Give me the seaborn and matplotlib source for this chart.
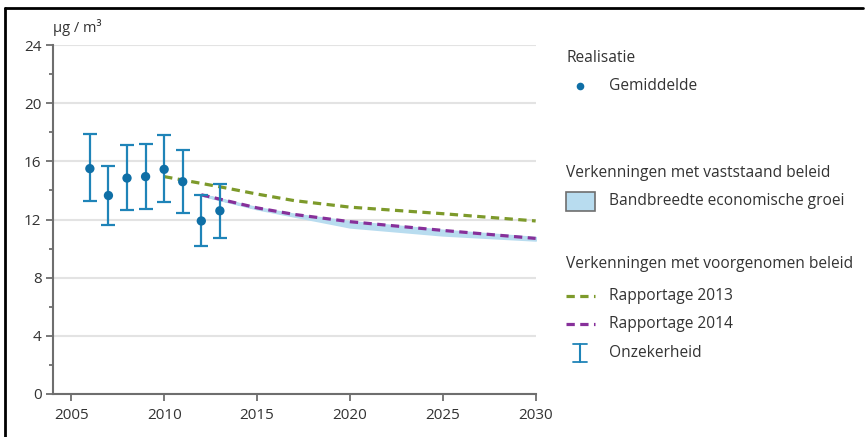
import matplotlib
matplotlib.use("Agg")
import matplotlib.pyplot as plt
from matplotlib.lines import Line2D
from matplotlib.patches import Rectangle
from matplotlib.ticker import MultipleLocator
import seaborn as sns
import pandas as pd

# Realisatie (gemiddelde met onzekerheid)
jaren = [2006, 2007, 2008, 2009, 2010, 2011, 2012, 2013]
gemiddelde = [15.5, 13.65, 14.85, 14.95, 15.45, 14.6, 11.9, 12.6]
onder = [13.25, 11.6, 12.65, 12.75, 13.2, 12.45, 10.15, 10.7]
boven = [17.85, 15.7, 17.1, 17.2, 17.8, 16.8, 13.7, 14.45]

# Rapportage 2013
jaren_2013 = [2010, 2013, 2015, 2017, 2020, 2025, 2030]
rapp_2013 = [14.95, 14.25, 13.75, 13.3, 12.85, 12.4, 11.9]

# Rapportage 2014 met bandbreedte economische groei
jaren_2014 = [2012, 2015, 2017, 2020, 2025, 2030]
rapp_2014 = [13.7, 12.8, 12.35, 11.85, 11.25, 10.7]
band_laag = [13.7, 12.75, 12.25, 11.5, 10.95, 10.6]
band_hoog = [13.7, 12.8, 12.35, 11.85, 11.25, 10.75]

blauw = "#1f84b8"
blauw_punt = "#0f6fa6"
groen = "#7d9a2b"
paars = "#87309a"
bandkleur = "#b8dcef"
grijs = "#6e6e6e"
tekst = "#333333"

sns.set_style("white")
plt.rcParams["font.family"] = ["Open Sans", "DejaVu Sans"]

fig = plt.figure(figsize=(8.67, 4.37), dpi=100)
ax = fig.add_axes([0.0608, 0.0984, 0.557, 0.7986])

df13 = pd.DataFrame({"jaar": jaren_2013, "waarde": rapp_2013})
df14 = pd.DataFrame({"jaar": jaren_2014, "waarde": rapp_2014})
dfr = pd.DataFrame({"jaar": jaren, "waarde": gemiddelde})

ax.fill_between(jaren_2014, band_laag, band_hoog, color=bandkleur, lw=2.0, zorder=2)
sns.lineplot(data=df13, x="jaar", y="waarde", ax=ax, color=groen, lw=2.3,
             zorder=3).lines[-1].set_dashes((2.6, 1.7))
sns.lineplot(data=df14, x="jaar", y="waarde", ax=ax, color=paars, lw=2.3,
             zorder=3).lines[-1].set_dashes((2.6, 1.7))

fout = [[g - o for g, o in zip(gemiddelde, onder)], [b - g for g, b in zip(gemiddelde, boven)]]
ax.errorbar(jaren, gemiddelde, yerr=fout, fmt="none", ecolor=blauw, elinewidth=1.6,
            capsize=5.3, capthick=1.6, zorder=4)
sns.scatterplot(data=dfr, x="jaar", y="waarde", ax=ax, color=blauw_punt, s=45,
                edgecolor="none", zorder=5)

ax.set_xlim(2004, 2030)
ax.set_ylim(0, 24)
ax.set_xticks([2005, 2010, 2015, 2020, 2025, 2030])
ax.yaxis.set_major_locator(MultipleLocator(4))
ax.yaxis.set_minor_locator(MultipleLocator(2))
ax.set_xlabel("")
ax.set_ylabel("")
ax.grid(axis="y", color="#e3e3e3", lw=1.5, zorder=0)
ax.set_axisbelow(True)
for s in ["top", "right"]:
    ax.spines[s].set_visible(False)
for s in ["left", "bottom"]:
    ax.spines[s].set_color(grijs)
    ax.spines[s].set_linewidth(1.5)
ax.tick_params(axis="both", which="major", direction="out", length=5, width=1.3,
               color=grijs, labelsize=11, labelcolor=tekst, pad=3, left=True, bottom=True)
ax.tick_params(axis="y", which="minor", direction="out", length=3, width=1.3,
               color=grijs, left=True)
ax.tick_params(axis="x", pad=5)

fig.text(53 / 867, 1 - 27 / 437, "µg / m³", fontsize=10.5, color=tekst, va="center")

# legenda
lax = fig.add_axes([0, 0, 1, 1])
lax.set_xlim(0, 867)
lax.set_ylim(437, 0)
lax.axis("off")
fs = 11.2
lax.text(566, 58, "Realisatie", fontsize=fs, color=tekst, va="center")
lax.plot([580], [86], "o", color=blauw_punt, ms=5.5, mec="none")
lax.text(609, 86, "Gemiddelde", fontsize=fs, color=tekst, va="center")
lax.text(566, 173, "Verkenningen met vaststaand beleid", fontsize=fs, color=tekst, va="center")
lax.add_patch(Rectangle((566, 192), 29, 19, facecolor=bandkleur, edgecolor=grijs, lw=1.2))
lax.text(609, 201, "Bandbreedte economische groei", fontsize=fs, color=tekst, va="center")
lax.text(566, 264, "Verkenningen met voorgenomen beleid", fontsize=fs, color=tekst, va="center")
l1 = Line2D([566, 595], [296, 296], color=groen, lw=2.3)
l1.set_dashes((2.6, 1.7))
lax.add_line(l1)
lax.text(609, 296, "Rapportage 2013", fontsize=fs, color=tekst, va="center")
l2 = Line2D([566, 595], [324, 324], color=paars, lw=2.3)
l2.set_dashes((2.6, 1.7))
lax.add_line(l2)
lax.text(609, 324, "Rapportage 2014", fontsize=fs, color=tekst, va="center")
lax.plot([580, 580], [344, 362], color=blauw, lw=1.5)
lax.plot([573, 587], [344, 344], color=blauw, lw=1.3)
lax.plot([573, 587], [362, 362], color=blauw, lw=1.3)
lax.text(609, 353, "Onzekerheid", fontsize=fs, color=tekst, va="center")

# kader
lax.plot([5, 863], [8, 8], color="black", lw=2)
lax.plot([5, 5], [8, 437], color="black", lw=2)

fig.savefig("out.png", dpi=100)
